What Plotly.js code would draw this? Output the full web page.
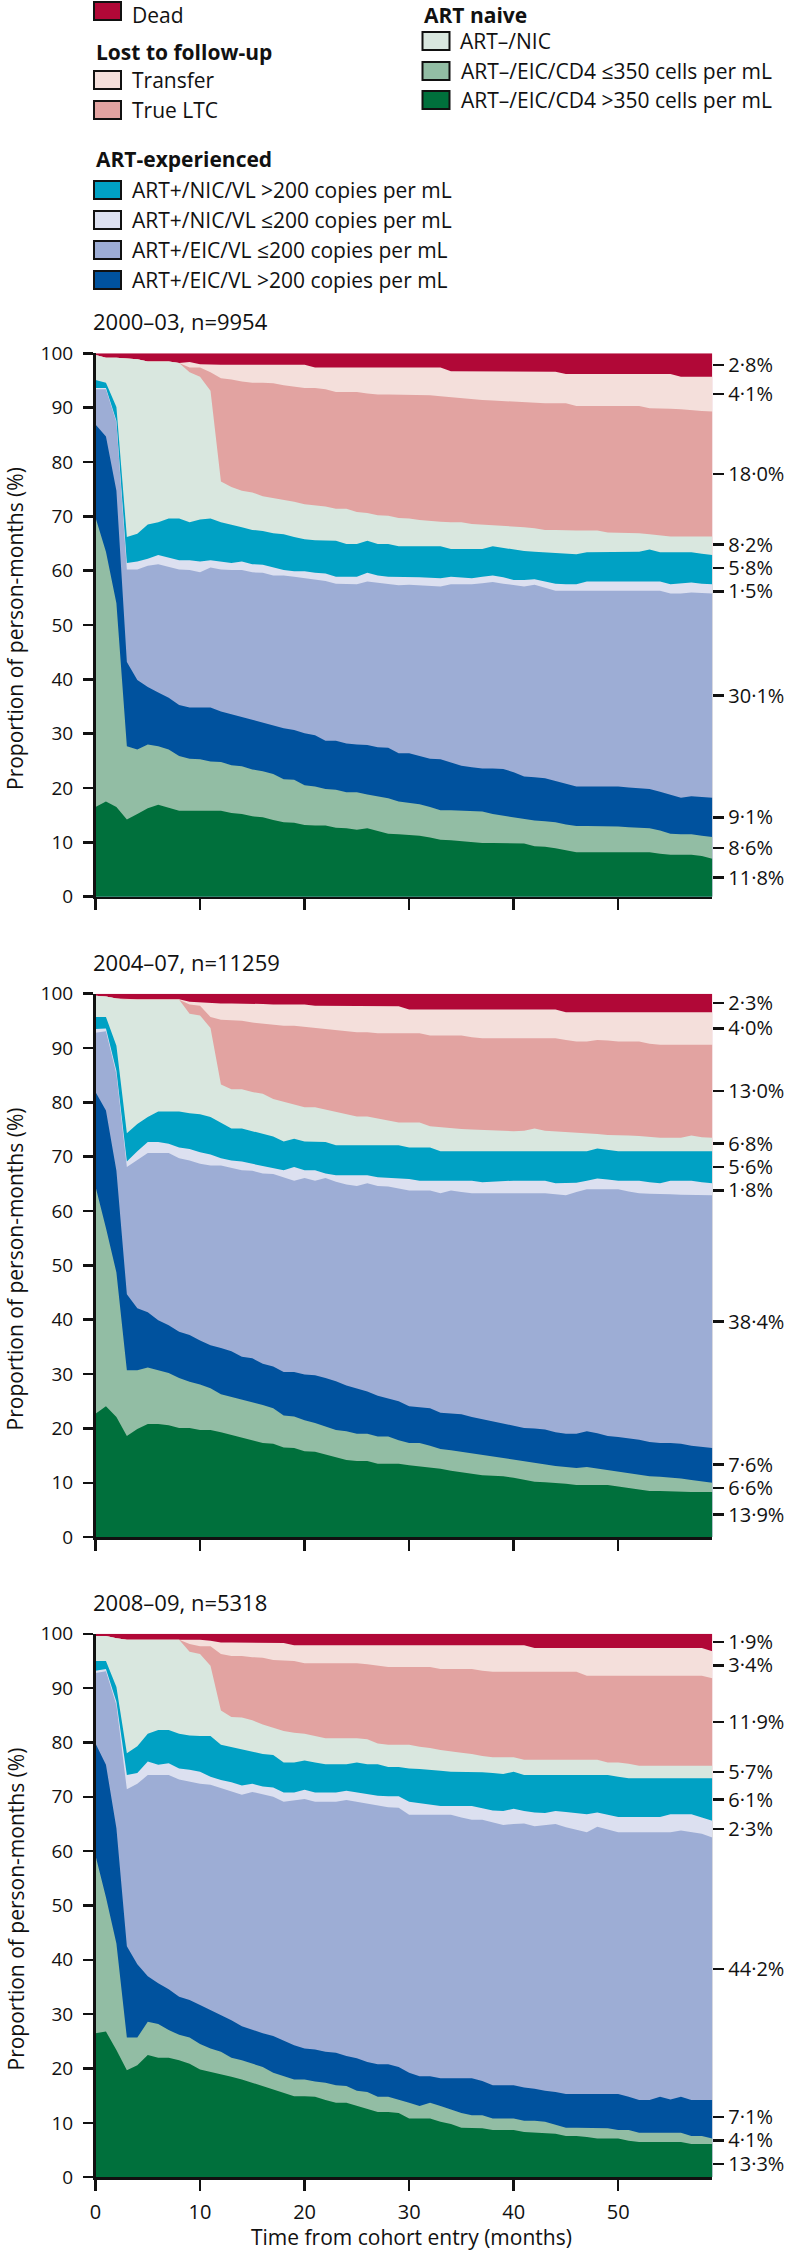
<!DOCTYPE html>
<html>
<head>
<meta charset="utf-8">
<script src="https://cdn.plot.ly/plotly-3.0.1.min.js"></script>
<style>
  html, body { margin: 0; padding: 0; background: #fff; }
  #chart { width: 788px; height: 2256px; }
</style>
</head>
<body>
<div id="chart"></div>
<script>
// ---------------- DATA ----------------
// Months since cohort entry
const months = Array.from({length: 60}, (_, i) => i);

// States, bottom to top of the stack
const stateNames = [
  'ART–/EIC/CD4 >350 cells per mL',
  'ART–/EIC/CD4 ≤350 cells per mL',
  'ART+/EIC/VL >200 copies per mL',
  'ART+/EIC/VL ≤200 copies per mL',
  'ART+/NIC/VL ≤200 copies per mL',
  'ART+/NIC/VL >200 copies per mL',
  'ART–/NIC',
  'True LTC',
  'Transfer',
  'Dead'
];
const stateColors = ['#00703C', '#92BDA4', '#00529E', '#9DADD5', '#DCE0F0',
                     '#00A1C4', '#D9E7DF', '#E2A3A1', '#F4DFDB', '#B10837'];

// Cumulative proportion of person-months (%) = upper edge of each state, by month
// ---- 2000–03 ----
const c2000_cd4gt350 = [16.5,17.5,16.5,14.2,15.2,16.3,16.9,16.3,15.8,15.8,15.8,15.8,15.8,15.4,15.2,14.8,14.6,14.1,13.7,13.6,13.2,13.1,13.1,12.7,12.6,12.3,12.6,12.1,11.6,11.5,
  11.4,11.2,10.9,10.5,10.4,10.2,10.0,9.9,9.9,9.9,9.8,9.8,9.3,9.2,8.9,8.6,8.2,8.2,8.2,8.2,8.2,8.2,8.2,8.2,7.9,7.7,7.7,7.7,7.5,7.0];
const c2000_cd4le350 = [69.8,63.5,54.0,27.7,27.1,28.0,27.7,27.1,25.9,25.4,25.3,24.9,24.8,24.2,24.0,23.4,23.1,22.6,21.6,21.5,20.5,20.3,19.8,19.7,19.2,19.2,18.8,18.5,18.1,17.5,
  17.3,17.0,16.5,15.9,15.9,15.8,15.7,15.7,15.2,14.9,14.5,14.2,14.0,13.9,13.7,13.3,13.0,13.0,13.0,12.9,12.9,12.8,12.7,12.6,12.2,11.6,11.5,11.5,11.2,11.0];
const c2000_eicVLgt200 = [86.9,84.7,74.7,43.2,39.9,38.6,37.6,36.6,35.3,34.8,34.8,34.8,34.1,33.6,33.1,32.6,32.0,31.5,31.0,30.7,30.1,29.7,28.7,28.7,28.2,28.0,27.9,27.5,27.4,26.4,
  26.4,25.9,25.4,25.3,24.7,24.1,23.8,23.6,23.6,23.5,22.9,22.1,22.0,21.8,21.3,20.8,20.3,20.3,20.3,20.3,20.3,20.1,20.0,19.8,19.3,18.8,18.2,18.5,18.3,18.2];
const c2000_eicVLle200 = [93.4,93.4,87.3,60.2,60.2,60.9,61.2,60.7,60.2,60.1,59.7,60.6,60.2,60.1,60.1,59.7,59.6,59.1,59.1,58.9,58.6,58.3,58.1,57.6,57.5,57.5,58.0,57.8,57.5,57.3,
  57.4,57.3,57.2,57.1,57.5,57.5,57.5,57.7,57.9,57.6,57.3,57.1,57.4,56.8,56.3,56.3,56.3,56.3,56.3,56.3,56.3,56.3,56.3,56.3,56.3,55.8,55.8,56.0,55.9,55.8];
const c2000_nicVLle200 = [93.6,93.6,87.6,61.4,61.7,62.2,62.9,62.4,61.9,61.9,61.7,61.9,61.7,61.4,61.7,61.2,61.1,60.6,60.1,59.9,59.9,59.6,59.5,58.9,58.9,58.9,59.6,59.1,58.9,58.9,
  58.9,58.8,58.7,58.6,58.9,58.8,58.6,58.9,59.1,58.8,58.3,58.3,58.4,58.0,57.6,57.5,57.5,58.0,58.0,58.0,58.0,58.0,58.0,58.0,58.0,57.5,57.6,57.8,57.6,57.5];
const c2000_nicVLgt200 = [95.1,94.6,90.1,66.2,66.8,68.5,68.9,69.6,69.6,68.9,69.4,69.6,68.9,68.5,68.0,67.5,67.3,66.9,66.7,66.2,65.8,65.6,65.6,65.5,64.9,64.9,65.5,64.9,64.9,64.5,
  64.5,64.5,64.5,64.5,64.0,64.0,64.0,64.0,64.5,64.2,63.9,63.6,63.5,63.4,63.3,63.1,63.0,63.4,63.4,63.4,63.4,63.4,63.5,63.9,63.4,63.4,63.4,63.4,63.1,62.9];
const c2000_naiveNIC = [99.7,99.2,99.2,99.0,98.9,98.5,98.5,98.5,98.2,96.5,95.7,93.1,76.4,75.4,74.7,74.4,73.7,73.4,73.1,72.7,72.2,72.0,71.8,71.4,71.4,70.8,70.6,70.2,70.1,69.7,
  69.6,69.3,69.1,69.0,68.9,68.9,68.6,68.5,68.4,68.3,68.1,68.0,67.8,67.5,67.5,67.4,67.4,67.4,67.4,67.0,67.0,67.0,66.9,66.7,66.5,66.3,66.3,66.3,66.3,66.3];
const c2000_trueLTC = [99.7,99.2,99.2,99.0,98.9,98.5,98.5,98.5,98.2,97.4,97.4,96.5,95.4,95.2,94.8,94.6,94.6,94.5,94.1,93.9,93.6,93.6,93.4,92.9,92.9,92.9,92.6,92.4,92.4,92.4,
  92.4,92.3,92.3,92.1,91.9,91.8,91.6,91.4,91.3,91.2,91.0,90.9,90.8,90.8,90.8,90.8,90.3,90.3,90.3,90.3,90.3,90.3,90.3,89.9,89.9,89.8,89.7,89.5,89.4,89.3];
const c2000_transfer = [99.7,99.2,99.2,99.0,98.9,98.5,98.5,98.5,98.2,98.4,98.0,97.9,97.9,97.9,97.9,97.9,97.9,97.9,97.9,97.9,97.9,97.4,97.4,97.4,97.4,97.4,97.4,97.4,97.4,97.4,
  97.4,97.4,97.4,97.4,96.7,96.7,96.7,96.7,96.7,96.7,96.7,96.7,96.7,96.7,96.6,96.2,96.2,96.2,96.2,96.2,96.2,96.2,96.2,96.2,96.2,96.2,95.7,95.7,95.7,95.7];

// ---- 2004–07 ----
const c2004_cd4gt350 = [22.7,24.1,22.1,18.6,19.9,20.8,20.8,20.6,20.1,20.1,19.7,19.7,19.3,18.8,18.3,17.8,17.3,17.2,16.5,16.4,15.8,15.7,15.2,14.7,14.2,14.0,14.0,13.5,13.5,13.5,
  13.2,13.0,12.9,12.6,12.2,11.9,11.6,11.4,11.3,11.2,10.9,10.5,10.2,10.1,10.0,9.8,9.6,9.6,9.6,9.6,9.3,9.0,8.7,8.5,8.5,8.4,8.4,8.3,8.3,8.3];
const c2004_cd4le350 = [64.5,56.9,48.7,30.7,30.7,31.2,30.7,30.2,29.3,28.6,28.1,27.4,26.3,25.8,25.4,24.8,24.3,23.7,22.4,22.2,21.5,21.0,20.4,19.7,19.5,19.0,19.0,18.5,18.5,17.8,
  17.3,17.3,16.8,16.2,16.0,15.7,15.4,15.1,14.8,14.5,14.2,13.9,13.6,13.3,13.1,12.9,12.7,12.9,12.6,12.3,12.1,11.8,11.4,11.2,11.1,11.0,10.8,10.5,10.2,10.0];
const c2004_eicVLgt200 = [81.9,78.5,67.4,44.7,42.1,41.4,39.9,39.0,37.8,37.2,36.2,35.3,34.8,34.2,33.2,32.9,31.9,31.4,30.4,30.4,29.9,29.8,29.3,28.7,27.9,27.3,26.8,26.0,25.5,25.0,
  24.1,23.9,23.7,22.9,22.8,22.6,22.1,21.7,21.2,20.8,20.4,20.1,20.0,19.8,19.3,19.0,19.0,19.5,19.1,18.6,18.4,18.2,17.9,17.5,17.3,17.3,17.2,16.8,16.6,16.4];
const c2004_eicVLle200 = [92.8,93.1,85.2,68.1,69.4,70.7,70.7,70.7,69.7,69.3,68.7,68.4,68.4,67.9,67.5,67.4,66.9,66.8,66.2,65.6,66.1,65.6,66.1,65.4,64.9,64.6,65.1,64.6,64.5,64.1,
  63.8,63.8,63.8,63.3,63.8,63.5,63.3,63.3,63.3,63.3,63.3,63.3,63.3,63.3,63.1,62.9,63.5,64.0,64.0,64.0,64.0,63.6,63.3,63.2,63.2,63.1,63.0,63.0,62.9,62.9];
const c2004_nicVLle200 = [93.5,93.6,85.8,69.1,71.0,72.7,72.7,72.4,71.7,71.4,70.8,70.4,69.7,69.3,69.1,68.7,68.4,67.9,67.5,68.1,67.5,67.5,66.9,66.6,66.6,66.6,66.6,66.2,66.1,65.9,
  65.9,65.6,65.6,65.6,65.6,65.6,65.6,65.3,65.4,65.6,65.6,65.6,65.6,65.6,65.1,65.1,65.2,65.6,66.0,65.8,65.6,65.6,65.6,65.3,65.1,65.6,65.6,65.6,65.3,65.1];
const c2004_nicVLgt200 = [95.7,95.7,90.4,74.3,76.0,77.3,78.3,78.3,78.3,78.0,77.8,77.3,76.3,75.2,75.2,74.7,74.1,73.7,72.8,73.3,72.8,72.8,72.7,72.1,72.1,72.1,72.1,72.1,72.1,72.1,
  71.7,71.7,71.7,71.0,71.0,71.0,71.0,71.0,71.0,71.0,71.0,71.0,71.0,71.0,71.0,71.0,71.0,71.0,71.5,71.2,71.0,71.0,71.0,71.0,71.0,71.0,71.0,71.0,71.0,71.0];
const c2004_naiveNIC = [99.6,99.5,99.1,98.9,98.9,98.9,98.9,98.9,98.9,96.3,96.0,93.7,83.3,82.4,82.4,81.9,81.6,80.6,80.1,79.6,79.1,79.1,78.7,78.3,77.8,77.4,77.4,77.0,76.6,76.3,
  76.3,76.3,75.6,75.4,75.2,75.1,75.0,74.9,74.9,74.8,74.7,74.8,75.2,74.8,74.7,74.6,74.5,74.4,74.2,74.0,74.0,73.9,73.8,73.6,73.5,73.5,73.5,73.9,73.6,73.5];
const c2004_trueLTC = [99.6,99.5,99.1,98.9,98.9,98.9,98.9,98.9,98.9,98.0,97.8,95.7,95.2,95.1,95.0,94.7,94.5,94.4,94.1,94.1,93.9,93.7,93.4,93.2,93.1,92.9,92.9,92.7,92.7,92.7,
  92.7,92.7,92.3,92.3,92.3,92.3,92.0,91.8,91.8,91.8,91.8,91.8,91.8,91.8,91.8,91.5,91.2,91.2,91.5,91.4,91.2,91.2,91.2,90.8,90.6,90.6,90.6,90.6,90.6,90.6];
const c2004_transfer = [99.6,99.5,99.1,99.0,99.0,99.0,99.0,99.0,99.0,98.5,98.4,98.2,98.2,98.2,98.2,98.1,98.1,98.0,98.0,98.0,98.0,97.8,97.8,97.8,97.8,97.8,97.8,97.8,97.8,97.7,
  97.1,97.1,97.1,97.1,97.1,97.1,97.1,97.1,97.1,97.1,97.1,97.1,97.1,97.1,97.1,96.6,96.6,96.6,96.6,96.6,96.6,96.6,96.6,96.6,96.6,96.6,96.6,96.6,96.6,96.6];

// ---- 2008–09 ----
const c2008_cd4gt350 = [26.5,26.8,23.4,19.7,20.6,22.5,22.0,22.0,21.5,20.9,19.8,19.4,19.0,18.5,18.0,17.4,16.8,16.1,15.5,14.9,14.9,14.8,14.2,13.7,13.7,13.1,12.5,12.0,12.0,11.8,
  10.8,10.8,10.8,10.2,9.8,9.1,9.1,9.0,8.7,8.7,8.7,8.3,8.2,8.2,8.0,7.6,7.6,7.4,7.1,7.1,7.1,6.7,6.5,6.5,6.5,6.5,6.5,6.1,6.1,6.1];
const c2008_cd4le350 = [59.2,51.5,43.0,25.7,25.7,28.6,28.2,27.1,26.2,25.7,24.5,23.7,23.1,22.0,21.5,20.9,20.3,19.2,18.6,18.0,18.0,17.6,17.4,16.9,16.8,15.9,15.7,14.8,14.8,14.3,
  13.7,13.1,13.7,13.1,12.5,11.8,11.4,11.4,10.8,10.8,10.8,10.4,10.4,10.2,9.6,9.1,9.1,9.1,9.1,9.0,8.7,8.7,8.2,8.2,8.2,8.2,8.2,7.6,7.6,7.1];
const c2008_eicVLgt200 = [79.8,75.9,64.2,42.5,39.2,37.0,35.7,34.6,33.2,32.6,31.7,30.8,29.8,28.9,27.8,27.1,26.5,26.0,25.2,24.3,23.7,23.5,23.1,22.9,22.3,21.9,21.2,20.8,20.8,20.3,
  19.2,18.6,18.6,18.2,18.2,18.2,18.2,17.7,16.9,16.9,16.9,16.5,16.3,15.9,15.7,15.3,15.3,15.3,15.3,15.3,15.3,14.8,14.2,14.2,14.8,14.3,14.8,14.2,14.2,14.2];
const c2008_eicVLle200 = [92.8,93.1,86.9,71.4,72.4,74.0,74.0,74.0,73.2,72.8,72.4,72.2,71.6,71.1,70.4,70.9,70.4,70.0,69.1,69.4,69.6,69.1,69.1,69.1,69.4,69.1,68.8,68.4,68.1,68.0,
  66.7,66.7,66.7,66.7,66.7,66.2,65.8,65.8,65.3,64.8,65.0,65.1,64.6,64.8,65.0,64.4,64.0,63.5,64.5,64.0,63.5,63.5,63.5,63.5,63.5,63.5,63.8,63.5,63.2,62.5];
const c2008_nicVLle200 = [93.2,93.5,87.5,74.0,74.4,76.5,75.9,76.2,75.2,75.0,74.6,73.7,73.1,72.7,72.1,72.4,71.9,71.7,70.8,70.8,71.3,70.8,70.8,70.8,71.1,70.8,70.6,70.2,70.1,70.1,
  69.1,68.8,68.6,68.3,68.3,68.3,68.3,67.9,67.5,67.4,67.8,67.4,67.1,67.0,67.4,67.2,67.0,66.8,67.1,66.7,66.3,66.3,66.3,66.3,66.3,66.8,66.8,66.8,66.2,65.6];
const c2008_nicVLgt200 = [95.0,95.0,90.2,78.0,79.3,81.6,82.3,82.3,81.6,81.3,81.2,81.2,79.6,79.2,78.8,78.3,77.9,77.7,76.3,76.3,76.7,76.3,76.0,76.0,76.0,76.3,76.0,76.0,75.5,75.5,
  75.2,75.1,75.0,74.8,74.6,74.6,74.6,74.5,74.4,74.2,74.6,74.0,74.0,74.0,74.0,74.0,74.0,74.0,74.0,74.0,73.7,73.4,73.4,73.4,73.4,73.4,73.4,73.4,73.4,73.4];
const c2008_naiveNIC = [99.6,99.6,99.2,98.9,98.9,98.9,98.9,98.9,98.9,96.7,96.3,94.1,85.9,84.7,84.6,84.1,83.3,82.7,82.1,81.8,81.6,81.2,80.8,80.8,80.8,80.8,80.6,79.8,79.6,79.6,
  79.6,79.2,79.0,78.6,78.3,78.1,77.9,77.5,77.3,77.3,77.3,76.8,76.8,76.8,76.8,76.8,76.8,76.8,76.8,76.3,76.3,76.1,75.7,75.7,75.7,75.7,75.7,75.7,75.7,75.7];
const c2008_trueLTC = [99.6,99.6,99.2,98.9,98.9,98.9,98.9,98.9,98.9,98.1,97.7,97.7,96.3,95.9,95.9,95.7,95.6,95.2,95.1,95.0,94.6,94.6,94.6,94.6,94.6,94.6,94.4,94.1,93.9,93.9,
  93.9,93.9,93.9,93.5,93.5,93.5,93.5,93.2,93.0,93.0,93.0,93.0,93.0,93.0,93.0,93.0,93.0,92.3,92.3,92.3,92.3,92.3,92.3,92.3,92.3,92.3,92.3,92.3,92.3,91.8];
const c2008_transfer = [99.6,99.6,99.2,98.9,98.9,98.9,98.9,98.9,98.9,98.9,98.9,98.7,98.4,98.4,98.4,98.4,98.4,98.4,98.3,97.9,97.9,97.9,97.9,97.9,97.9,97.9,97.9,97.9,97.9,97.9,
  97.9,97.9,97.9,97.9,97.9,97.9,97.9,97.9,97.9,97.9,97.9,97.9,97.4,97.4,97.4,97.4,97.4,97.4,97.4,97.4,97.4,97.4,97.4,97.4,97.4,97.4,97.4,97.4,97.4,96.8];

// All states together always make up 100% (upper edge of "Dead")
const totalPct = 100;

// Overall share of person-months for each state (right-hand labels), bottom to top
const share2000 = ['11·8%','8·6%','9·1%','30·1%','1·5%','5·8%','8·2%','18·0%','4·1%','2·8%'];
const share2004 = ['13·9%','6·6%','7·6%','38·4%','1·8%','5·6%','6·8%','13·0%','4·0%','2·3%'];
const share2008 = ['13·3%','4·1%','7·1%','44·2%','2·3%','6·1%','5·7%','11·9%','3·4%','1·9%'];

const panelTitles = ['2000–03, n=9954', '2004–07, n=11259', '2008–09, n=5318'];
const xTicks = [0, 10, 20, 30, 40, 50];
const yTicks = [0, 10, 20, 30, 40, 50, 60, 70, 80, 90, 100];

// ---------------- BUILD ----------------
const panels = [
  {title: panelTitles[0], shares: share2000,
   edges: [c2000_cd4gt350, c2000_cd4le350, c2000_eicVLgt200, c2000_eicVLle200, c2000_nicVLle200,
           c2000_nicVLgt200, c2000_naiveNIC, c2000_trueLTC, c2000_transfer]},
  {title: panelTitles[1], shares: share2004,
   edges: [c2004_cd4gt350, c2004_cd4le350, c2004_eicVLgt200, c2004_eicVLle200, c2004_nicVLle200,
           c2004_nicVLgt200, c2004_naiveNIC, c2004_trueLTC, c2004_transfer]},
  {title: panelTitles[2], shares: share2008,
   edges: [c2008_cd4gt350, c2008_cd4le350, c2008_eicVLgt200, c2008_eicVLle200, c2008_nicVLle200,
           c2008_nicVLgt200, c2008_naiveNIC, c2008_trueLTC, c2008_transfer]}
];

const W = 788, H = 2256;
const px = x => x / W;
const py = y => 1 - y / H;
const FONT = '"Open Sans", "Noto Sans", sans-serif';
const INK = '#111111';

const plotLeft = 95.5, plotRight = 712.3;
const tops = [353.3, 993.7, 1633.8];
const plotH = 543.4;
const LABEL_GAP = 4.3;   // minimum spacing (axis units) between right-hand labels

// spread label positions so neighbouring labels do not collide
function spread(pos, gap) {
  const p = pos.slice();
  for (let it = 0; it < 60; it++) {
    let moved = false;
    for (let i = 1; i < p.length; i++) {
      const d = p[i] - p[i - 1];
      if (d < gap) { const s = (gap - d) / 2; p[i] += s; p[i - 1] -= s; moved = true; }
    }
    if (!moved) break;
  }
  return p;
}

const traces = [];
const layout = {
  width: W, height: H,
  margin: {l: 0, r: 0, t: 0, b: 0},
  paper_bgcolor: '#ffffff', plot_bgcolor: 'rgba(0,0,0,0)',
  font: {family: FONT, color: INK, size: 19},
  showlegend: false,
  shapes: [], annotations: []
};

panels.forEach((p, k) => {
  const sfx = k === 0 ? '' : String(k + 1);
  const xa = 'x' + sfx, ya = 'y' + sfx;
  const yr = 'y' + (k + 4);
  const top = tops[k], bottom = top + plotH;

  // stacked areas: draw top state first, each filled down to zero
  const uppers = p.edges.concat([months.map(() => totalPct)]);
  for (let j = uppers.length - 1; j >= 0; j--) {
    traces.push({
      type: 'scatter', mode: 'lines', x: months, y: uppers[j],
      xaxis: xa, yaxis: ya, fill: 'tozeroy',
      fillcolor: stateColors[j], line: {width: 0, color: stateColors[j]},
      hoverinfo: 'skip', showlegend: false, name: stateNames[j]
    });
  }

  const last = months.length - 1;
  const mids = uppers.map((u, j) => ((j === 0 ? 0 : uppers[j - 1][last]) + u[last]) / 2);
  const labelPos = spread(mids, LABEL_GAP);

  // invisible anchor trace so the right-hand label axis is drawn
  traces.push({
    type: 'scatter', mode: 'markers', x: mids.map(() => months[last]), y: mids,
    xaxis: xa, yaxis: yr, marker: {opacity: 0, size: 1}, hoverinfo: 'skip', showlegend: false
  });

  layout['xaxis' + sfx] = {
    domain: [px(plotLeft), px(plotRight)], anchor: ya, range: [0, months[last]],
    tickvals: xTicks, ticks: 'outside', ticklen: 11, tickwidth: 2.5, tickcolor: INK,
    showline: true, linewidth: 2.5, linecolor: INK, showgrid: false, zeroline: false,
    showticklabels: k === 2, tickfont: {size: 20, family: FONT, color: INK},
    ticklabelstandoff: 4, fixedrange: true
  };
  layout['yaxis' + sfx] = {
    domain: [py(bottom), py(top)], anchor: xa, range: [0, 100],
    tickvals: yTicks, ticks: 'outside', ticklen: 10, tickwidth: 2.5, tickcolor: INK,
    showline: true, linewidth: 2.5, linecolor: INK, showgrid: false, zeroline: false,
    tickfont: {size: 19, family: FONT, color: INK}, ticklabelstandoff: 6, fixedrange: true
  };
  layout['yaxis' + (k + 4)] = {
    overlaying: ya, side: 'right', anchor: xa, range: [0, 100],
    tickmode: 'array', tickvals: labelPos, ticktext: p.shares, ticks: 'outside', ticklen: 11, tickwidth: 2.5,
    tickcolor: INK, showline: false, showgrid: false, zeroline: false, showticklabels: true,
    tickfont: {size: 20, family: FONT, color: INK}, ticklabelstandoff: 0, fixedrange: true
  };

  // panel title
  layout.annotations.push({
    xref: 'paper', yref: 'paper', x: px(91), y: py(top - 32), xanchor: 'left', yanchor: 'middle',
    text: p.title, showarrow: false, font: {size: 22, family: FONT, color: INK}
  });
  // y-axis title
  layout.annotations.push({
    xref: 'paper', yref: 'paper', x: px(15), y: py(top + plotH / 2 + 4), xanchor: 'center', yanchor: 'middle',
    text: 'Proportion of person-months (%)', textangle: -90, showarrow: false, borderpad: 0,
    font: {size: 21, family: FONT, color: INK}
  });
});

// x-axis title
layout.annotations.push({
  xref: 'paper', yref: 'paper', x: px(411), y: py(2237), xanchor: 'center', yanchor: 'middle',
  text: 'Time from cohort entry (months)', showarrow: false, borderpad: 0,
  font: {size: 21, family: FONT, color: INK}
});

// ---------------- LEGEND ----------------
const legendHeads = [
  {text: 'Lost to follow-up', x: 95, y: 52},
  {text: 'ART-experienced', x: 95, y: 159},
  {text: 'ART naive', x: 423, y: 14.5}
];
legendHeads.forEach(h => layout.annotations.push({
  xref: 'paper', yref: 'paper', x: px(h.x), y: py(h.y), xanchor: 'left', yanchor: 'middle',
  text: '<b>' + h.text + '</b>', showarrow: false, borderpad: 0,
  font: {size: 21, family: FONT, color: INK}
}));
const legendItems = [
  {state: 9, x: 94, y: 11, ty: 14.5},
  {state: 8, x: 94, y: 80},
  {state: 7, x: 94, y: 110},
  {state: 5, x: 94, y: 190},
  {state: 4, x: 94, y: 220},
  {state: 3, x: 94, y: 250},
  {state: 2, x: 94, y: 280},
  {state: 6, x: 422.5, y: 41},
  {state: 1, x: 422.5, y: 71},
  {state: 0, x: 422.5, y: 100}
];
legendItems.forEach(it => {
  layout.shapes.push({
    type: 'rect', xref: 'paper', yref: 'paper',
    x0: px(it.x), x1: px(it.x + 27), y0: py(it.y + 9), y1: py(it.y - 9),
    fillcolor: stateColors[it.state], line: {color: INK, width: 2}
  });
  layout.annotations.push({
    xref: 'paper', yref: 'paper', x: px(it.x + 37), y: py(it.ty || it.y), xanchor: 'left', yanchor: 'middle',
    text: stateNames[it.state], showarrow: false, borderpad: 0,
    font: {size: 21, family: FONT, color: INK}
  });
});

Plotly.newPlot('chart', traces, layout, {staticPlot: true, displayModeBar: false});
</script>
</body>
</html>
